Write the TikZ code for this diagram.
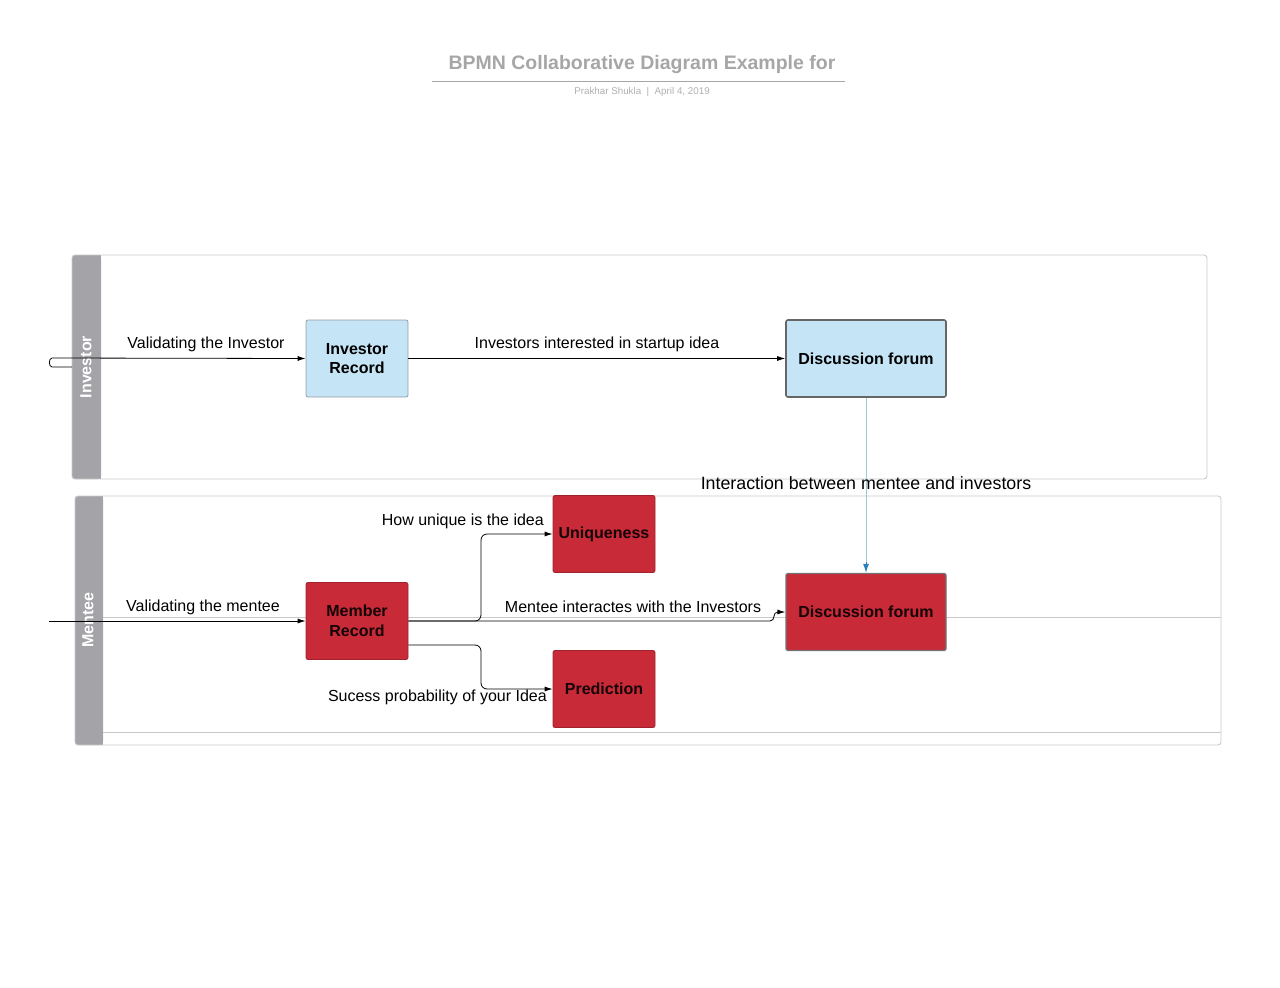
\documentclass[tikz,border=0pt]{standalone}
\usepackage{fontspec}
\setmainfont{Liberation Sans}
\usetikzlibrary{arrows.meta,calc}
\definecolor{lblue}{HTML}{C5E4F6}
\definecolor{bred}{HTML}{C82A38}
\definecolor{hgray}{HTML}{A4A4A8}
\definecolor{pgray}{HTML}{C9C9CB}
\definecolor{tgray}{HTML}{A6A6A6}
\definecolor{lnblue}{HTML}{9CCAD8}
\definecolor{arblue}{HTML}{2A80BA}
\tikzset{
  box/.style={rounded corners=2pt, minimum width=102pt, minimum height=77pt, inner sep=2pt, align=center, font=\fontsize{16}{19.5}\selectfont\bfseries},
  bluebox/.style={box, fill=lblue, draw=gray!70!lblue, line width=0.8pt},
  redbox/.style={box, fill=bred, draw=bred!80!black, line width=0.8pt, text=black!90!bred},
  bigbox/.style={minimum width=160pt, minimum height=77pt},
  grbox/.style={draw=black!60, line width=1.6pt},
  lbl/.style={font=\fontsize{16}{19}\selectfont, inner sep=0pt},
  arr/.style={-{Latex[length=8pt,width=5pt]}, line width=0.8pt},
  pool/.style={draw=pgray, line width=0.9pt, rounded corners=3pt},
  hdr/.style={fill=hgray},
  hdrtext/.style={text=white, font=\fontsize{16}{19}\selectfont\bfseries, rotate=90}
}
\begin{document}
\begin{tikzpicture}[x=1pt,y=-1pt]
\useasboundingbox (0,0) rectangle (1280,988);
% title
\node[text=tgray, font=\fontsize{19.5}{23}\selectfont\bfseries] (title) at (642,64) {BPMN Collaborative Diagram Example for};
\draw[tgray, line width=1pt] (432,81) -- (845,81);
\node[text=tgray!90, font=\fontsize{9.8}{12}\selectfont] (sub) at (642,92) {Prakhar Shukla \ | \ April 4, 2019};
% investor pool
\fill[hdr, rounded corners=3pt] (72,255) rectangle (101,479);
\fill[hdr] (90,255) rectangle (101,479);
\draw[pool] (72,255) rectangle (1207,479);
\node[hdrtext] (invh) at (86,367) {Investor};
% mentee pool
\fill[hdr, rounded corners=3pt] (75,496) rectangle (103,745);
\fill[hdr] (92,496) rectangle (103,745);
\draw[pool] (75,496) rectangle (1221,745);
\draw[pgray, line width=0.8pt] (103,732) -- (1221,732);
\draw[pgray, line width=0.8pt] (103,617) -- (1221,617);
\node[hdrtext] (menh) at (88,620) {Mentee};
% nodes
\node[bluebox] (ir) at (357,358.5) {Investor\\Record};
\node[bluebox, bigbox, grbox] (dft) at (866,358.5) {Discussion forum};
\node[redbox] (un) at (604,534) {Uniqueness};
\node[redbox] (mr) at (357,621) {Member\\Record};
\node[redbox] (pr) at (604,689) {Prediction};
\node[redbox, bigbox, draw=black!55, line width=1.3pt] (dfb) at (866,612) {Discussion forum};
% start coordinates
\coordinate (s1) at (72,367);
\coordinate (s2) at (49,621);
% connectors
\draw[arr] (s1) -- (52,367) to[out=180,in=180] (52,358) -- (ir.west);
\draw[arr] (ir.east) -- (dft.west);
\draw[lnblue, line width=1pt] (dft.south) -- ($(dfb.north)+(0,-10)$);
\draw[-{Latex[length=9pt,width=6pt]}, arblue, line width=1pt] ($(dfb.north)+(0,-11)$) -- (dfb.north);
\draw[arr] (s2) -- (mr.west);
\draw[arr, rounded corners=6pt] (mr.east) -- (481,621) -- (481,534) -- (un.west);
\draw[arr, rounded corners=6pt] ($(mr.east)+(0,24)$) -- (481,645) -- (481,689) -- (pr.west);
\draw[arr] (mr.east) -- (770,621) .. controls (776,621) and (772,612) .. (dfb.west);
% labels
\node[lbl] (l1) at (206,344) {Validating the Investor};
\node[lbl] (l2) at (597,344) {Investors interested in startup idea};
\node[lbl, font=\fontsize{17.8}{21}\selectfont] (l3) at (866,483) {Interaction between mentee and investors};
\node[lbl] (l4) at (203,607) {Validating the mentee};
\node[lbl, anchor=east] (l5) at (544,521) {How unique is the idea};
\node[lbl] (l6) at (633,607) {Mentee interactes with the Investors};
\node[lbl, anchor=east] (l7) at (547,697) {Sucess probability of your Idea};
\end{tikzpicture}
\end{document}
